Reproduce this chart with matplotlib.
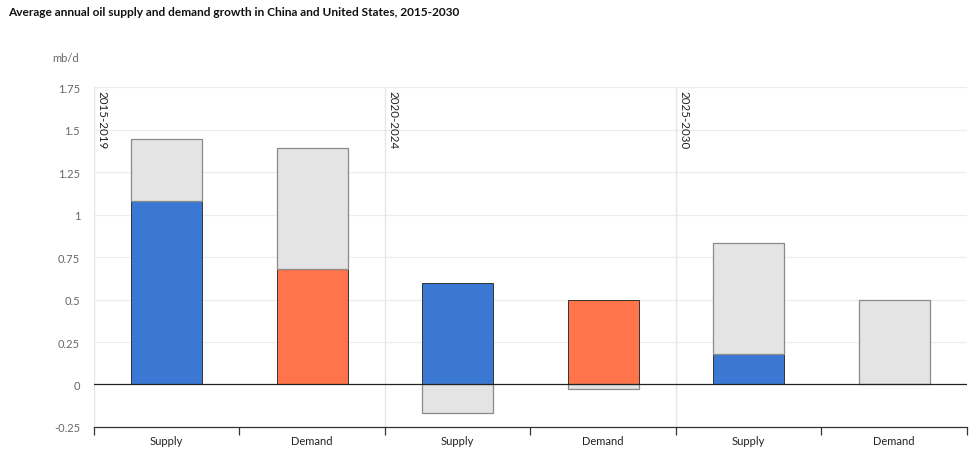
import matplotlib
matplotlib.use("Agg")
import matplotlib.pyplot as plt
import numpy as np

categories = ["Supply", "Demand", "Supply", "Demand", "Supply", "Demand"]
periods = ["2015-2019", "2020-2024", "2025-2030"]
colored_values = [1.08, 0.68, 0.60, 0.495, 0.18, 0.005]
grey_values = [0.365, 0.71, -0.165, -0.025, 0.655, 0.49]
colored_colors = ["#3b78d4", "#ff744a", "#3b78d4", "#ff744a", "#3b78d4", "#ff744a"]
yticks = [-0.25, 0, 0.25, 0.5, 0.75, 1, 1.25, 1.5, 1.75]
ytick_labels = ["-0.25", "0", "0.25", "0.5", "0.75", "1", "1.25", "1.5", "1.75"]

plt.rcParams['font.family'] = ['Lato', 'DejaVu Sans']

fig = plt.figure(figsize=(9.8, 4.64), dpi=100)
ax = fig.add_axes([0.0959, 0.0776, 0.8908, 0.7327])

x = np.arange(len(categories))
w = 0.49
colored = np.array(colored_values)
grey = np.array(grey_values)
grey_bottom = np.where(grey >= 0, colored, 0)

ax.bar(x, colored, w, color=colored_colors, edgecolor="#333333", linewidth=0.7, zorder=3)
ax.bar(x, grey, w, bottom=grey_bottom, color="#e4e4e4", edgecolor="#8a8a8a", linewidth=0.9, zorder=3)

ax.set_xlim(-0.5, len(categories) - 0.5)
ax.set_ylim(-0.25, 1.75)

ax.set_yticks(yticks)
ax.set_yticklabels(ytick_labels, color="#666666", fontsize=8)
ax.tick_params(axis="y", length=0, pad=10)
for yv in yticks:
    if yv not in (0, -0.25):
        ax.axhline(yv, color="#ececec", linewidth=0.9, zorder=0)
ax.axhline(0, color="#222222", linewidth=0.9, zorder=4)

ax.set_xticks(x)
ax.set_xticklabels(categories, fontsize=8, color="#222222")
ax.tick_params(axis="x", length=0, pad=6)
ax.set_xticks(np.arange(-0.5, len(categories), 1.0), minor=True)
ax.tick_params(axis="x", which="minor", length=6, width=0.9, color="#333333", direction="out")

for s in ["top", "right", "left"]:
    ax.spines[s].set_visible(False)
ax.spines["bottom"].set_color("#333333")
ax.spines["bottom"].set_linewidth(0.9)

for i, p in enumerate(periods):
    xp = -0.5 + 2 * i
    ax.axvline(xp, color="#e6e6e6", linewidth=1.0, zorder=1)
    ax.text(xp + 0.02, 1.73, p, rotation=-90, ha="left", va="top", fontsize=8.3, color="#222222", zorder=5)

fig.text(0.008, 0.972, "Average annual oil supply and demand growth in China and United States, 2015-2030",
         fontsize=8.6, fontweight="bold", color="#111111", ha="left", va="center")
fig.text(0.053, 0.873, "mb/d", fontsize=8, color="#666666", ha="left", va="center")

fig.savefig("out.png", dpi=100)
